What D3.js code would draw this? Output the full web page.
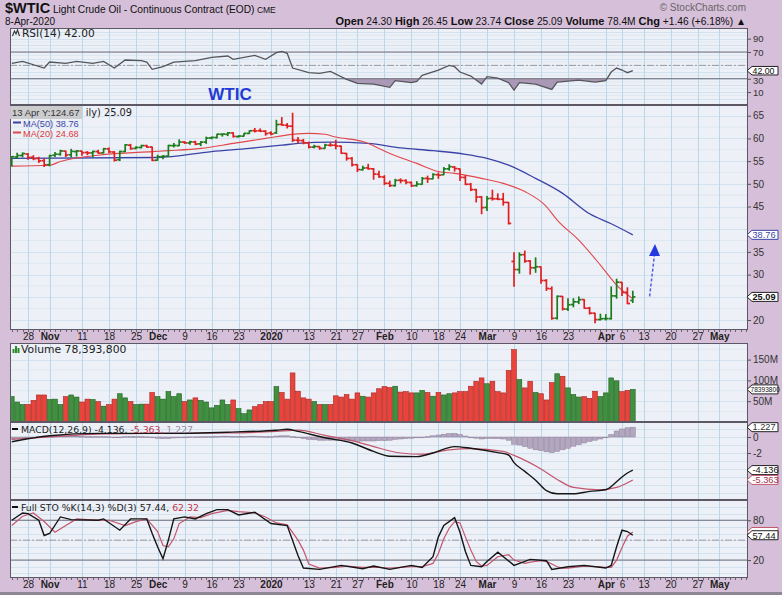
<!DOCTYPE html>
<html><head><meta charset="utf-8">
<script src="https://cdn.jsdelivr.net/npm/d3@7/dist/d3.min.js"></script>
<style>
html,body{margin:0;padding:0;background:#d6bfd9;}
svg{display:block;}
</style></head>
<body><svg id="chart" width="782" height="595"></svg>
<script>
// ================= DATA =================
const holidays = ["2019-11-28","2019-12-25","2020-01-01","2020-01-20","2020-02-17","2020-04-10"];
const firstDay = "2019-10-23", lastDay = "2020-05-08";

// daily OHLC, Oct 23 2019 -> Apr 8 2020
const openP = [54.30,55.90,56.25, 56.55,55.85,55.60,55.10,54.20,
 56.30,56.50,57.20,56.40,57.10, 57.20,56.90,56.80,57.10,56.80, 57.70,57.00,55.30,57.10,58.50, 57.80,58.00,58.40,58.10,
 55.20,56.00,56.10,58.40,58.40, 59.20,59.00,59.20,58.80,59.20, 60.10,60.20,60.90,60.90,61.20, 60.40,60.50,61.10,61.70, 61.70,61.60,
 61.20,61.20, 63.10,62.90,62.70,59.60,59.50, 59.00,58.10,58.20,57.80,58.50, 58.50,58.30,56.70,55.60, 54.20,53.10,53.50,53.30,52.10,
 51.50,50.10,49.60,50.80,50.70, 50.30,49.60,49.90,51.20,51.10, 52.00,52.00,53.30,53.70, 53.30,51.40,49.90,48.70,47.10,
 44.80,46.80,46.70,46.60,45.90, 32.90,31.10,34.40,33.00,31.50, 31.70,28.70,26.90,20.40,25.20, 22.40,23.40,24.00,24.50,22.60, 21.50,20.10,
 20.30,20.30,25.30, 28.30,26.10,24.30];
const highP = [56.10,56.85,56.92, 56.77,56.30,55.95,55.60,56.40,
 57.00,57.50,57.30,57.70,57.40, 57.30,57.20,57.30,57.50,57.90, 58.00,57.20,57.30,58.75,58.80, 58.30,58.60,58.60,58.20,
 56.40,56.30,58.60,59.00,59.80, 59.40,59.50,59.50,59.40,60.40, 60.40,61.00,61.10,61.40,61.40, 60.70,61.20,61.80,62.30, 62.20,61.80,
 61.60,64.10, 64.70,63.40,65.65,60.30,59.90, 59.30,58.60,58.30,58.80,59.10, 59.70,58.40,56.80,55.90, 54.30,54.00,54.40,53.50,52.90,
 51.90,50.70,51.10,51.20,51.00, 50.50,50.60,51.50,51.80,52.30, 52.50,53.70,54.30,53.90, 53.40,51.90,50.20,48.90,47.30,
 47.30,48.70,47.90,48.00,46.00, 34.90,34.90,35.30,33.20,33.80, 31.80,29.00,27.40,25.40,25.30, 24.80,24.80,25.20,24.60,22.90, 21.60,21.40,
 21.30,27.40,29.10, 28.40,27.20,26.45];
const lowP = [53.80,55.50,55.80, 55.30,55.20,54.60,53.70,53.85,
 55.90,56.20,55.90,55.80,56.00, 56.20,56.30,55.80,56.60,56.70, 56.80,54.90,55.00,57.00,57.50, 57.60,57.80,57.90,55.00,
 55.10,55.40,56.00,58.00,58.30, 58.80,58.60,58.50,58.30,58.80, 59.80,60.00,60.40,60.50,60.20, 60.20,60.40,61.00,61.30, 61.40,60.60,
 60.70,61.00, 62.80,62.20,59.20,58.90,58.70, 57.80,57.80,57.50,57.70,58.20, 57.60,56.60,55.10,53.80, 52.60,52.90,53.10,50.90,51.30,
 49.70,49.30,49.40,50.10,49.90, 49.30,49.40,49.80,50.20,51.00, 51.10,51.90,52.90,52.70, 50.60,49.70,48.40,45.90,43.30,
 44.00,46.30,46.40,45.20,41.05, 27.30,30.20,32.60,30.00,30.40, 28.00,26.40,20.06,20.10,22.10, 22.00,22.80,23.50,22.50,21.20, 19.30,19.90,
 19.90,20.10,24.70, 25.30,23.50,23.74];
const closeP = [55.97,56.23,56.66, 55.81,55.54,55.06,54.18,56.20,
 56.54,57.23,56.35,57.15,57.24, 56.86,56.80,57.12,56.77,57.72, 57.05,55.21,57.11,58.58,57.77, 58.01,58.41,58.11,55.17,
 55.96,56.10,58.43,58.45,59.20, 59.02,59.24,58.76,59.18,60.07, 60.21,60.94,60.96,61.22,60.44, 60.52,61.11,61.68,61.65, 61.60,61.06,
 61.00,63.05, 62.95,62.70,59.61,59.56,59.04, 58.08,58.23,57.81,58.52,58.50, 58.34,56.74,55.59,54.19, 53.14,53.48,53.33,52.14,51.56,
 50.11,49.61,50.75,50.70,50.32, 49.57,49.94,51.17,51.10,52.05, 51.90,53.29,53.78,53.38, 51.43,49.90,48.73,47.09,44.76,
 46.75,46.70,46.60,45.90,41.28, 31.13,34.36,32.98,31.50,31.73, 28.70,26.95,20.37,25.22,22.43, 23.36,24.01,24.49,22.60,21.51, 20.09,20.28,
 20.31,25.32,28.34, 26.08,23.63,25.09];
// volume, millions
const volumeM = [61,48,42, 42,52,65,65,54,
 55,42,61,65,60, 48,55,54,49,38, 42,55,68,58,49, 42,43,43,71,
 61,55,73,61,68, 49,53,58,52,48, 34,40,53,42,53, 32,20,29,37, 42,49,
 49,85, 71,55,118,74,58, 55,49,42,42,42, 63,60,66,55, 70,62,60,70,80,
 85,83,86,72,73, 70,70,76,71,62, 71,65,68,70, 73,73,86,98,106,
 92,98,73,70,124, 174,102,82,98,71, 68,53,95,116,110, 82,66,60,61,57, 74,61,
 70,106,99, 73,76,78.4];

// moving averages
const ma50Dates = ["2019-10-23","2019-12-02","2019-12-16","2019-12-26","2020-01-06","2020-01-09","2020-01-17","2020-01-29","2020-02-06","2020-02-14","2020-02-25","2020-03-02","2020-03-06","2020-03-13","2020-03-20","2020-03-27","2020-04-02","2020-04-08"];
const ma50Values = [55.6,55.8,57.1,57.8,58.5,58.9,59.2,58.9,57.9,57.3,56.5,55.6,54.1,51.2,47.9,43.4,41.2,38.76];
const ma20Dates = ["2019-10-23","2019-11-01","2019-11-05","2019-11-14","2019-11-29","2019-12-04","2019-12-12","2019-12-20","2019-12-31","2020-01-08","2020-01-13","2020-01-16","2020-01-21","2020-01-28","2020-02-04","2020-02-11","2020-02-18","2020-02-21","2020-02-28","2020-03-05","2020-03-11","2020-03-17","2020-03-19","2020-03-25","2020-03-31","2020-04-03","2020-04-08"];
const ma20Values = [53.9,54.1,54.9,56.3,57.1,57.3,57.8,58.9,60.0,60.9,61.1,60.9,60.3,59.3,56.7,54.5,52.7,52.3,51.2,50.1,48.3,45.0,42.0,37.6,32.1,27.7,24.68];

// RSI(14)
const rsiDates = ["2019-10-23","2019-10-25","2019-10-31","2019-11-01","2019-11-06","2019-11-08","2019-11-13","2019-11-15","2019-11-19","2019-11-21","2019-11-26","2019-11-27","2019-11-29","2019-12-03","2019-12-05","2019-12-11","2019-12-16","2019-12-19","2019-12-20","2019-12-27","2019-12-31","2020-01-03","2020-01-06","2020-01-07","2020-01-08","2020-01-13","2020-01-15","2020-01-17","2020-01-23","2020-01-27","2020-01-30","2020-02-04","2020-02-05","2020-02-10","2020-02-11","2020-02-12","2020-02-18","2020-02-20","2020-02-21","2020-02-24","2020-02-26","2020-02-28","2020-03-02","2020-03-04","2020-03-06","2020-03-09","2020-03-10","2020-03-13","2020-03-18","2020-03-19","2020-03-25","2020-03-30","2020-04-01","2020-04-02","2020-04-03","2020-04-06","2020-04-07","2020-04-08"];
const rsiValues = [53,56,46,55,53,56,53,56,46,58,57,55,44,48,55,57,62,64,59,65,59,69,71,68,46,39,38,41,29,23,22,17,27,24,26,35,43,50,48,40,34,22,33,31,24,13,24,22,14,25,28,25,27,40,46,43,39,42];

// MACD(12,26,9)
const macdDates = ["2019-10-23","2019-11-01","2019-11-14","2019-12-02","2019-12-19","2020-01-03","2020-01-07","2020-01-09","2020-01-16","2020-01-24","2020-01-30","2020-02-04","2020-02-11","2020-02-14","2020-02-21","2020-02-26","2020-03-04","2020-03-06","2020-03-09","2020-03-11","2020-03-13","2020-03-17","2020-03-19","2020-03-24","2020-03-27","2020-04-01","2020-04-03","2020-04-06","2020-04-07","2020-04-08"];
const macdValues = [-0.6,0.15,0.45,0.45,0.6,0.85,0.96,0.7,-0.1,-0.75,-1.8,-2.4,-2.45,-2.0,-1.2,-1.4,-1.95,-2.25,-3.2,-4.3,-5.4,-6.7,-7.1,-7.1,-6.8,-6.6,-5.6,-5.0,-4.5,-4.136];
const signalDates = ["2019-10-23","2019-11-01","2019-11-14","2019-12-02","2019-12-19","2020-01-03","2020-01-09","2020-01-16","2020-01-24","2020-01-30","2020-02-06","2020-02-12","2020-02-20","2020-02-26","2020-03-05","2020-03-09","2020-03-16","2020-03-19","2020-03-24","2020-03-31","2020-04-03","2020-04-08"];
const signalValues = [-0.3,0.0,0.35,0.45,0.5,0.7,0.85,0.2,-0.45,-1.2,-2.0,-2.15,-1.6,-1.45,-1.8,-2.3,-4.0,-5.3,-6.3,-6.6,-6.3,-5.363];
const histValues = [-0.25,-0.2,-0.12, -0.05,0,0.05,0.05,0.1,
 0.15,0.15,0.12,0.12,0.1, 0.08,0.05,0.05,0.05,0.05, 0.02,-0.05,-0.02,0.05,0.05, 0.05,0.05,0.02,-0.1,
 -0.15,-0.2,-0.2,-0.12,-0.05, 0,0.02,0.02,0.03,0.05, 0.05,0.08,0.1,0.1,0.08, 0.08,0.08,0.1,0.1, 0.08,0.05,
 0.05,0.12, 0.15,0.15,0.05,-0.1,-0.2, -0.3,-0.35,-0.4,-0.4,-0.4, -0.4,-0.45,-0.5,-0.5, -0.55,-0.5,-0.5,-0.5,-0.45,
 -0.45,-0.4,-0.3,-0.25,-0.2, -0.15,-0.1,-0.05,0.05,0.15, 0.25,0.35,0.42,0.45, 0.3,0.12,-0.05,-0.15,-0.25,
 -0.2,-0.2,-0.2,-0.25,-0.4, -0.9,-1.0,-1.2,-1.4,-1.6, -1.7,-1.85,-1.95,-1.8,-1.6, -1.4,-1.15,-0.95,-0.75,-0.55, -0.4,-0.25,
 -0.05,0.3,0.75, 1.0,1.15,1.227];

// Full Stochastics %K(14,3) %D(3)
const stoKDates = ["2019-10-23","2019-10-25","2019-10-28","2019-10-30","2019-10-31","2019-11-01","2019-11-05","2019-11-07","2019-11-14","2019-11-15","2019-11-20","2019-11-22","2019-11-27","2019-11-29","2019-12-02","2019-12-03","2019-12-04","2019-12-05","2019-12-09","2019-12-11","2019-12-13","2019-12-17","2019-12-19","2019-12-23","2019-12-27","2020-01-02","2020-01-07","2020-01-09","2020-01-10","2020-01-15","2020-01-22","2020-01-28","2020-01-30","2020-02-04","2020-02-10","2020-02-12","2020-02-14","2020-02-18","2020-02-19","2020-02-21","2020-02-24","2020-02-25","2020-02-26","2020-02-28","2020-03-02","2020-03-04","2020-03-09","2020-03-12","2020-03-17","2020-03-18","2020-03-23","2020-03-26","2020-04-01","2020-04-02","2020-04-03","2020-04-06","2020-04-07","2020-04-08"];
const stoKValues = [80,91,90,80,57,60,85,81,80,82,65,82,82,60,40,22,50,82,85,82,90,96,96,88,92,75,72,27,8,6,12,7,11,6,12,9,25,55,72,84,62,33,12,10,18,32,12,21,19,6,10,12,8,12,40,65,63,57.44];
const stoDDates = ["2019-10-23","2019-10-25","2019-10-29","2019-10-31","2019-11-04","2019-11-06","2019-11-08","2019-11-14","2019-11-18","2019-11-21","2019-11-25","2019-11-27","2019-12-02","2019-12-03","2019-12-04","2019-12-05","2019-12-06","2019-12-10","2019-12-12","2019-12-16","2019-12-19","2019-12-23","2019-12-27","2019-12-31","2020-01-03","2020-01-07","2020-01-09","2020-01-10","2020-01-13","2020-01-15","2020-01-21","2020-01-23","2020-01-28","2020-01-31","2020-02-04","2020-02-10","2020-02-12","2020-02-14","2020-02-18","2020-02-19","2020-02-20","2020-02-21","2020-02-24","2020-02-25","2020-02-26","2020-02-27","2020-02-28","2020-03-02","2020-03-04","2020-03-06","2020-03-09","2020-03-11","2020-03-12","2020-03-16","2020-03-17","2020-03-18","2020-03-19","2020-03-20","2020-03-23","2020-03-26","2020-03-30","2020-04-01","2020-04-02","2020-04-03","2020-04-06","2020-04-07","2020-04-08"];
const stoDValues = [72,86,91,78,62,72,82,80,80,72,78,82,63,42,40,52,75,85,84,90,95,93,91,85,76,73,50,35,14,8,9,11,9,9,8,10,10,15,30,52,68,78,76,55,35,18,11,12,25,28,20,15,17,19,18,14,10,8,8,11,10,9,9,20,39,56,62.32];

// axis tick labels
const tickDates = ["2019-10-28","2019-11-01","2019-11-11","2019-11-18","2019-11-25","2019-12-02","2019-12-09","2019-12-16","2019-12-23","2020-01-02","2020-01-13","2020-01-21","2020-01-27","2020-02-03","2020-02-10","2020-02-18","2020-02-24","2020-03-02","2020-03-09","2020-03-16","2020-03-23","2020-04-01","2020-04-06","2020-04-13","2020-04-20","2020-04-27","2020-05-01"];
const tickTexts = ["28","Nov","11","18","25","Dec","9","16","23","2020","13","21","27","Feb","10","18","24","Mar","9","16","23","Apr","6","13","20","27","May"];
// right-axis labels left visible (the others sit under the value tags)
const rsiTicks = [90,70,30,10];
const priceTicks = [65,60,55,50,45,35,30,20];
const volTicks = [150,100,50];
const macdTicks = [0,-2];
const stoTicks = [80,20];

// ================= CHART =================
const svg = d3.select("#chart");
const FONT = "'Liberation Sans', Arial, sans-serif";
const LFONT = "'DejaVu Sans', Verdana, sans-serif";
const X0 = 10, X1 = 748;
const BG = "#eef0f7", VGRID = "#b9d8ea", HGRID = "#d2e2ee", BORDER = "#5c5866";
const GREEN = "#1b7c1b", RED = "#de2020";

const parse = d3.utcParse("%Y-%m-%d"), fmt = d3.utcFormat("%Y-%m-%d");
const days = d3.utcDay.range(parse(firstDay), d3.utcDay.offset(parse(lastDay), 1))
  .filter(d => d.getUTCDay() % 6 !== 0 && !holidays.includes(fmt(d))).map(fmt);
const x = d3.scalePoint().domain(days).range([X0, X1]).padding(0.33);
const step = x.step();

const bars = closeP.map((c, i) => ({
  date: days[i], o: openP[i], h: highP[i], l: lowP[i], c: c, v: volumeM[i], hist: histValues[i],
  up: i === 0 ? true : c >= closeP[i - 1]
}));
const pts = (ds, vs) => ds.map((d, i) => ({date: d, v: vs[i]}));

const P = {rsi: [28, 105], main: [105, 330], vol: [343, 422], macd: [422, 500], sto: [500, 578]};
const yRsi = d3.scaleLinear().domain([-9.4, 106]).range([P.rsi[1], P.rsi[0]]);
const yPrice = d3.scaleLinear().domain([17.8, 67.36]).range([P.main[1], P.main[0]]);
const yVol = d3.scaleLinear().domain([0, 190]).range([P.vol[1], P.vol[0]]);
const yMacd = d3.scaleLinear().domain([-7.875, 1.875]).range([P.macd[1], P.macd[0]]);
const ySto = d3.scaleLinear().domain([-7, 110.5]).range([P.sto[1], P.sto[0]]);

const defs = svg.append("defs");
Object.entries(P).forEach(([k, [a, b]]) => {
  defs.append("clipPath").attr("id", "clip-" + k).append("rect")
    .attr("x", X0).attr("y", a).attr("width", X1 - X0).attr("height", b - a);
});

// panel backgrounds + grids
function panel(key, yScale, hLines, minor) {
  const [a, b] = P[key];
  const g = svg.append("g");
  g.append("rect").attr("x", X0).attr("y", a).attr("width", X1 - X0).attr("height", b - a).attr("fill", BG);
  if (minor) g.selectAll(".mn").data(minor).join("line")
    .attr("x1", X0).attr("x2", X1).attr("y1", d => yScale(d)).attr("y2", d => yScale(d))
    .attr("stroke", "#dde8f1").attr("stroke-width", 1);
  g.selectAll(".hg").data(hLines).join("line")
    .attr("x1", X0).attr("x2", X1).attr("y1", d => Math.round(yScale(d)) + 0.5).attr("y2", d => Math.round(yScale(d)) + 0.5)
    .attr("stroke", HGRID).attr("stroke-width", 1);
  g.selectAll(".vg").data(tickDates).join("line")
    .attr("x1", d => Math.round(x(d)) + 0.5).attr("x2", d => Math.round(x(d)) + 0.5).attr("y1", a).attr("y2", b)
    .attr("stroke", VGRID).attr("stroke-width", 1);
  return g;
}
panel("rsi", yRsi, d3.range(0, 101, 10), d3.range(5, 100, 10));
panel("main", yPrice, d3.range(20, 66, 5), d3.range(22.5, 66, 5));
panel("vol", yVol, d3.range(0, 190, 50), d3.range(25, 190, 50));
panel("macd", yMacd, [1, 0, -1, -2, -3, -4, -5, -6, -7]);
panel("sto", ySto, d3.range(0, 101, 10));

// ---------- RSI ----------
const gR = svg.append("g").attr("clip-path", "url(#clip-rsi)");
const rsiPts = pts(rsiDates, rsiValues);
defs.append("clipPath").attr("id", "rsiLow").append("rect").attr("x", X0).attr("width", X1 - X0)
  .attr("y", yRsi(30)).attr("height", P.rsi[1] - yRsi(30));
defs.append("clipPath").attr("id", "rsiHigh").append("rect").attr("x", X0).attr("width", X1 - X0)
  .attr("y", P.rsi[0]).attr("height", yRsi(70) - P.rsi[0]);
gR.append("path").datum(rsiPts).attr("clip-path", "url(#rsiLow)").attr("fill", "#a999b6")
  .attr("d", d3.area().x(d => x(d.date)).y0(yRsi(30)).y1(d => yRsi(d.v)));
gR.append("path").datum(rsiPts).attr("clip-path", "url(#rsiHigh)").attr("fill", "#a999b6")
  .attr("d", d3.area().x(d => x(d.date)).y0(yRsi(70)).y1(d => yRsi(d.v)));
[70, 30].forEach(v => gR.append("line").attr("x1", X0).attr("x2", X1).attr("y1", yRsi(v)).attr("y2", yRsi(v))
  .attr("stroke", "#6c6c78").attr("stroke-width", 1));
gR.append("line").attr("x1", X0).attr("x2", X1).attr("y1", yRsi(50)).attr("y2", yRsi(50))
  .attr("stroke", "#9a9aa4").attr("stroke-width", 1).attr("stroke-dasharray", "7,2,2,2");
gR.append("path").datum(rsiPts).attr("fill", "none").attr("stroke", "#55555c").attr("stroke-width", 1.3)
  .attr("d", d3.line().x(d => x(d.date)).y(d => yRsi(d.v)));

// ---------- Price ----------
const gP = svg.append("g").attr("clip-path", "url(#clip-main)");
const line = (ys) => d3.line().x(d => x(d.date)).y(d => ys(d.v)).curve(d3.curveMonotoneX);
gP.append("path").datum(pts(ma50Dates, ma50Values)).attr("fill", "none").attr("stroke", "#3a44a6").attr("stroke-width", 1.3).attr("d", line(yPrice));
gP.append("path").datum(pts(ma20Dates, ma20Values)).attr("fill", "none").attr("stroke", "#e0474a").attr("stroke-width", 1.1).attr("d", line(yPrice));
const ob = gP.selectAll(".ohlc").data(bars).join("g").attr("stroke", d => d.up ? GREEN : RED).attr("stroke-width", 1.7);
ob.append("line").attr("x1", d => x(d.date)).attr("x2", d => x(d.date)).attr("y1", d => yPrice(d.h)).attr("y2", d => yPrice(d.l));
ob.append("line").attr("x1", d => x(d.date) - 2.6).attr("x2", d => x(d.date)).attr("y1", d => yPrice(d.o)).attr("y2", d => yPrice(d.o));
ob.append("line").attr("x1", d => x(d.date)).attr("x2", d => x(d.date) + 2.6).attr("y1", d => yPrice(d.c)).attr("y2", d => yPrice(d.c));

// annotation arrow
const arrowFrom = {date: "2020-04-13", v: 25.2}, arrowTo = {date: "2020-04-14", v: 35.2};
const ax0 = x(arrowFrom.date) + 6, ay0 = yPrice(arrowFrom.v), ax1 = x(arrowTo.date) + 6, ay1 = yPrice(arrowTo.v);
svg.append("line").attr("x1", ax0).attr("y1", ay0).attr("x2", ax1 - 0.6).attr("y2", ay1 + 4)
  .attr("stroke", "#4a5ee8").attr("stroke-width", 1.5).attr("stroke-dasharray", "3,2");
svg.append("path").attr("d", `M${ax1 - 6},${ay1 + 5} L${ax1 + 5},${ay1 + 5} L${ax1},${ay1 - 7} Z`).attr("fill", "#2438e0");

// ---------- Volume ----------
const gV = svg.append("g").attr("clip-path", "url(#clip-vol)");
gV.selectAll("rect").data(bars).join("rect")
  .attr("x", d => x(d.date) - step * 0.44).attr("width", step * 0.88)
  .attr("y", d => yVol(d.v)).attr("height", d => yVol(0) - yVol(d.v))
  .attr("fill", d => d.up ? "#3f903f" : "#e8443c").attr("stroke", d => d.up ? "#1f5f1f" : "#a8231f").attr("stroke-width", 0.6);

// ---------- MACD ----------
const gM = svg.append("g").attr("clip-path", "url(#clip-macd)");
gM.selectAll("rect").data(bars).join("rect")
  .attr("x", d => x(d.date) - step * 0.45).attr("width", step * 0.9)
  .attr("y", d => Math.min(yMacd(d.hist), yMacd(0))).attr("height", d => Math.max(0.8, Math.abs(yMacd(d.hist) - yMacd(0))))
  .attr("fill", "#b3a7bf").attr("stroke", "#8c7f9a").attr("stroke-width", 0.5);
gM.append("path").datum(pts(signalDates, signalValues)).attr("fill", "none").attr("stroke", "#c2566e").attr("stroke-width", 1.2).attr("d", line(yMacd));
gM.append("path").datum(pts(macdDates, macdValues)).attr("fill", "none").attr("stroke", "#151515").attr("stroke-width", 1.4).attr("d", line(yMacd));

// ---------- STO ----------
const gS = svg.append("g").attr("clip-path", "url(#clip-sto)");
[80, 20].forEach(v => gS.append("line").attr("x1", X0).attr("x2", X1).attr("y1", ySto(v)).attr("y2", ySto(v))
  .attr("stroke", "#6c6c78").attr("stroke-width", 1));
gS.append("line").attr("x1", X0).attr("x2", X1).attr("y1", ySto(50)).attr("y2", ySto(50))
  .attr("stroke", "#9a9aa4").attr("stroke-width", 1).attr("stroke-dasharray", "7,2,2,2");
gS.append("path").datum(pts(stoDDates, stoDValues)).attr("fill", "none").attr("stroke", "#c2566e").attr("stroke-width", 1.2)
  .attr("d", d3.line().x(d => x(d.date)).y(d => ySto(d.v)));
gS.append("path").datum(pts(stoKDates, stoKValues)).attr("fill", "none").attr("stroke", "#151515").attr("stroke-width", 1.4)
  .attr("d", d3.line().x(d => x(d.date)).y(d => ySto(d.v)));

// panel borders
Object.values(P).forEach(([a, b]) => svg.append("rect").attr("x", X0 + 0.5).attr("y", a + 0.5)
  .attr("width", X1 - X0 - 1).attr("height", b - a - 1).attr("fill", "none").attr("stroke", BORDER).attr("stroke-width", 1));

// ---------- right axes ----------
function rightAxis(scale, vals, f, size) {
  const g = svg.append("g").attr("transform", `translate(${X1},0)`)
    .call(d3.axisRight(scale).tickValues(vals).tickSize(3).tickPadding(2).tickFormat(f));
  g.select(".domain").remove();
  g.selectAll("line").attr("stroke", "#555");
  g.selectAll("text").attr("font-family", FONT).attr("font-size", size || 10).attr("fill", "#333");
  return g;
}
const rsiAx = rightAxis(yRsi, rsiTicks, d => d, 9.5);
rsiAx.selectAll(".tick").filter(d => d === 30).select("text").attr("dy", "0.55em");
rightAxis(yPrice, priceTicks, d => d);
rightAxis(yVol, volTicks, d => d + "M");
rightAxis(yMacd, macdTicks, d => d);
rightAxis(ySto, stoTicks, d => d);

// value tags
function tag(y, txt, stroke, color, opts = {}) {
  const h = opts.h || 9, tx = X1 - 1;
  svg.append("path").attr("d", `M${tx},${y} L${tx + 5},${y - h / 2} L${tx + 31},${y - h / 2} L${tx + 31},${y + h / 2} L${tx + 5},${y + h / 2} Z`)
    .attr("fill", "#fff").attr("stroke", stroke).attr("stroke-width", 1);
  if (!txt) return;
  svg.append("text").attr("x", tx + (opts.dx || 5.5)).attr("y", y + (opts.size ? opts.size * 0.36 : 3.3)).text(txt).attr("font-family", FONT)
    .attr("font-size", opts.size || 9.2).attr("fill", color).attr("font-weight", opts.bold ? "bold" : "normal");
}
tag(yRsi(rsiValues[rsiValues.length - 1]), "42.00", "#222", "#111", {h: 8.5, size: 8.8});
tag(yPrice(ma50Values[ma50Values.length - 1]), "38.76", "#3a44a6", "#3a44a6");
tag(yPrice(closeP[closeP.length - 1]), "25.09", "#222", "#111", {bold: true});
tag(yVol(volumeM[volumeM.length - 1]), "78393800", "#222", "#111", {size: 6.6, dx: 3.5});
tag(yMacd(histValues[histValues.length - 1]), "1.227", "#222", "#333");
tag(yMacd(macdValues[macdValues.length - 1]), "-4.136", "#222", "#111");
tag(yMacd(signalValues[signalValues.length - 1]), "-5.363", "#c2566e", "#a0304a");
tag(ySto(stoDValues[stoDValues.length - 1]), "", "#c2566e", "#a0304a");
tag(ySto(stoKValues[stoKValues.length - 1]), "57.44", "#222", "#111");

// ---------- date axes ----------
function dateAxis(y0) {
  const g = svg.append("g").attr("transform", `translate(0,${y0})`)
    .call(d3.axisBottom(x).tickValues(tickDates).tickSize(0).tickPadding(3).tickFormat((d, i) => tickTexts[i]));
  g.select(".domain").remove();
  g.selectAll("text").attr("font-family", FONT).attr("font-size", 10).attr("fill", "#222")
    .attr("font-weight", (d, i) => (+tickTexts[i] >= 1 && +tickTexts[i] <= 31) ? "normal" : "bold");
  svg.append("g").selectAll("line").data(days).join("line")
    .attr("x1", d => Math.round(x(d)) + 0.5).attr("x2", d => Math.round(x(d)) + 0.5).attr("y1", y0).attr("y2", y0 + 2)
    .attr("stroke", "#6a6470").attr("stroke-width", 1);
}
dateAxis(P.main[1]);
dateAxis(P.sto[1]);
svg.append("rect").attr("x", 0).attr("y", 592).attr("width", 782).attr("height", 3).attr("fill", "#8e8692");

// ---------- header ----------
const hd = svg.append("text").attr("x", 5).attr("y", 13).attr("font-family", FONT).attr("fill", "#111");
hd.append("tspan").text("$WTIC").attr("font-weight", "bold").attr("font-size", 14.5);
hd.append("tspan").text(" Light Crude Oil - Continuous Contract (EOD)").attr("font-size", 10.2);
hd.append("tspan").text(" CME").attr("font-size", 8.5);
svg.append("text").attr("x", 5).attr("y", 25).attr("font-family", FONT).attr("font-size", 10).attr("fill", "#111").text("8-Apr-2020");
svg.append("text").attr("x", 746).attr("y", 11).attr("text-anchor", "end").attr("font-family", FONT)
  .attr("font-size", 10).attr("fill", "#666").text("© StockCharts.com");
const hr = svg.append("text").attr("x", 746).attr("y", 25).attr("text-anchor", "end").attr("font-family", FONT).attr("fill", "#111");
[["Open", "24.30"], ["High", "26.45"], ["Low", "23.74"], ["Close", "25.09"], ["Volume", "78.4M"], ["Chg", "+1.46 (+6.18%) \u25B2"]]
  .forEach(([k, v], i) => {
    hr.append("tspan").text((i ? "  " : "") + k).attr("font-weight", "bold").attr("font-size", 11);
    hr.append("tspan").text(" " + v).attr("font-size", 10.2);
  });

// ---------- panel labels ----------
function lbl(x0, y0, size, parts) {
  const t = svg.append("text").attr("x", x0).attr("y", y0).attr("font-family", LFONT).attr("font-size", size);
  parts.forEach(([s, c]) => t.append("tspan").text(s).attr("fill", c));
  return t;
}
// RSI
svg.append("path").attr("d", "M12.5,36 L14.5,31 L16,34 L17.5,30 L19.5,36").attr("fill", "none").attr("stroke", "#333").attr("stroke-width", 1.1);
lbl(22, 37, 10.6, [["RSI(14) 42.00", "#222"]]);
svg.append("text").attr("x", 230).attr("y", 100).attr("text-anchor", "middle").attr("font-family", FONT)
  .attr("font-weight", "bold").attr("font-size", 17).attr("fill", "#2339d6").text("WTIC");
// price: title partly covered by the date/value readout box
lbl(132, 116, 9.8, [["ily) 25.09", "#222"]]).attr("text-anchor", "end");
svg.append("line").attr("x1", 13).attr("x2", 21).attr("y1", 122.5).attr("y2", 122.5).attr("stroke", "#3a44a6").attr("stroke-width", 2);
svg.append("text").attr("x", 23).attr("y", 126.5).attr("font-family", FONT).attr("font-size", 9.2).attr("fill", "#3a44a6").text("MA(50) 38.76");
svg.append("line").attr("x1", 13).attr("x2", 21).attr("y1", 132.5).attr("y2", 132.5).attr("stroke", "#e0474a").attr("stroke-width", 2);
svg.append("text").attr("x", 23).attr("y", 136.5).attr("font-family", FONT).attr("font-size", 9.2).attr("fill", "#d83a3d").text("MA(20) 24.68");
svg.append("rect").attr("x", 10).attr("y", 106).attr("width", 72).attr("height", 13).attr("fill", "#c9c9cb").attr("opacity", 0.95);
svg.append("text").attr("x", 12).attr("y", 116).attr("font-family", FONT).attr("font-size", 9.5).attr("fill", "#333").text("13 Apr Y:124.67");
// volume
[[12.5, 4], [15, 7], [17.5, 5]].forEach(([bx, bh]) => svg.append("rect").attr("x", bx).attr("y", 353 - bh).attr("width", 2).attr("height", bh).attr("fill", "#2d8a2d"));
lbl(21, 353, 10.8, [["Volume 78,393,800", "#222"]]);
// MACD
svg.append("line").attr("x1", 12).attr("x2", 18).attr("y1", 429).attr("y2", 429).attr("stroke", "#111").attr("stroke-width", 2);
lbl(21, 432.5, 9.3, [["MACD(12,26,9) -4.136, ", "#222"], ["-5.363, ", "#c2364e"], ["1.227", "#9a8ca8"]]);
// STO
svg.append("line").attr("x1", 12).attr("x2", 18).attr("y1", 507).attr("y2", 507).attr("stroke", "#111").attr("stroke-width", 2);
lbl(21, 510.5, 9.3, [["Full STO %K(14,3) %D(3) 57.44, ", "#222"], ["62.32", "#c2364e"]]);
</script>
</body></html>
